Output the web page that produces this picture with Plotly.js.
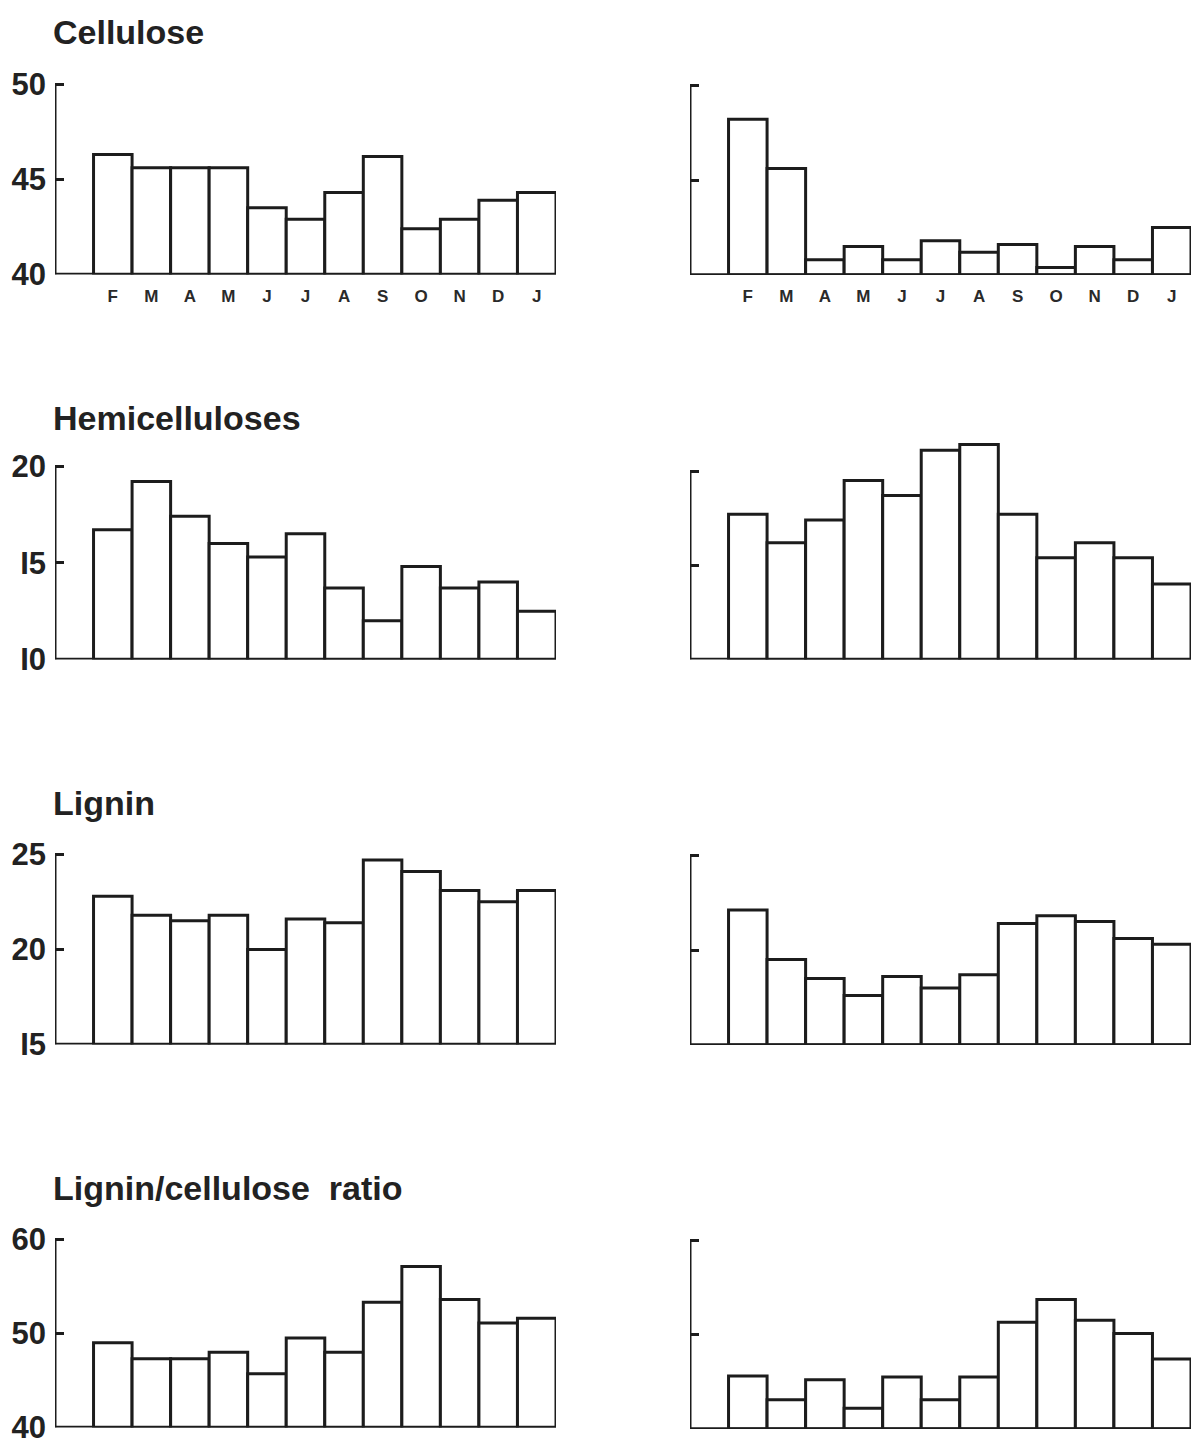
<!DOCTYPE html>
<html>
<head>
<meta charset="utf-8">
<script src="https://cdn.plot.ly/plotly-3.0.1.min.js"></script>
<style>
  html, body { margin: 0; padding: 0; background: #fff; }
  #chart { width: 1194px; height: 1439px; }
</style>
</head>
<body>
<div id="chart"></div>
<script>
// Month labels, February through the following January
const months = ['F', 'M', 'A', 'M', 'J', 'J', 'A', 'S', 'O', 'N', 'D', 'J'];

// Cellulose (%)
const celluloseLeft  = [46.3, 45.6, 45.6, 45.6, 43.5, 42.9, 44.3, 46.2, 42.4, 42.9, 43.9, 44.3];
const celluloseRight = [48.2, 45.6, 40.8, 41.5, 40.8, 41.8, 41.2, 41.6, 40.4, 41.5, 40.8, 42.5];

// Hemicelluloses (%)
const hemiLeft  = [16.7, 19.2, 17.4, 16.0, 15.3, 16.5, 13.7, 12.0, 14.8, 13.7, 14.0, 12.5];
const hemiRight = [17.7, 16.2, 17.4, 19.5, 18.7, 21.1, 21.4, 17.7, 15.4, 16.2, 15.4, 14.0];

// Lignin (%)
const ligninLeft  = [22.8, 21.8, 21.5, 21.8, 20.0, 21.6, 21.4, 24.7, 24.1, 23.1, 22.5, 23.1];
const ligninRight = [22.1, 19.5, 18.5, 17.6, 18.6, 18.0, 18.7, 21.4, 21.8, 21.5, 20.6, 20.3];

// Lignin/cellulose ratio (x100)
const ratioLeft  = [49.0, 47.3, 47.3, 48.0, 45.7, 49.5, 48.0, 53.3, 57.1, 53.6, 51.1, 51.6];
const ratioRight = [45.6, 43.1, 45.2, 42.2, 45.5, 43.1, 45.5, 51.3, 53.7, 51.5, 50.1, 47.4];

// Panel titles and y-axis ticks
const panelTitles = ['Cellulose', 'Hemicelluloses', 'Lignin', 'Lignin/cellulose\u00a0\u00a0ratio'];
const yTicks = [[40, 45, 50], [10, 15, 20], [15, 20, 25], [40, 50, 60]];
const yTickText = [['40', '45', '50'], ['I0', 'I5', '20'], ['I5', '20', '25'], ['40', '50', '60']];

const seriesRows = [
  [celluloseLeft, celluloseRight],
  [hemiLeft, hemiRight],
  [ligninLeft, ligninRight],
  [ratioLeft, ratioRight]
];

// Page geometry (pixels)
const W = 1194, H = 1439;
const colX = [[55, 556], [690, 1191]];
// [top tick, base] of each panel, left and right columns
const rowY = [
  [[84, 274.5], [85, 275]],
  [[466, 659.5], [471, 659.5]],
  [[854.3, 1044.5], [855, 1045]],
  [[1239.3, 1427.5], [1240, 1429]]
];
const headroomPx = 5;   // space kept above the top tick so it is drawn

const ink = '#1c1c1c';
const fontFamily = '"Liberation Sans", Arial, Helvetica, sans-serif';

const xIdx = months.map((_, i) => i);
const xLo = -1.5, xHi = 11.5;
const traces = [];
const layout = {
  width: W, height: H,
  margin: {l: 0, r: 0, t: 0, b: 0},
  paper_bgcolor: '#fff', plot_bgcolor: 'rgba(0,0,0,0)',
  showlegend: false,
  bargap: 0,
  annotations: [],
  shapes: []
};

let n = 0;
seriesRows.forEach((pair, r) => {
  pair.forEach((vals, c) => {
    n += 1;
    const xa = 'xaxis' + (n === 1 ? '' : n);
    const ya = 'yaxis' + (n === 1 ? '' : n);
    const xr = 'x' + (n === 1 ? '' : n);
    const yr = 'y' + (n === 1 ? '' : n);
    const ticks = yTicks[r];
    const floor = ticks[0], tickTop = ticks[2];

    // vertical scale from the tick positions, then extra room above the top tick
    const [topPx, basePx] = rowY[r][c];
    const pxPerUnit = (basePx - topPx) / (tickTop - floor);
    const rangeTop = Math.max(tickTop, Math.max(...vals)) + headroomPx / pxPerUnit;
    const domTopPx = basePx - (rangeTop - floor) * pxPerUnit;

    // bars rise from the axis floor up to each value
    traces.push({
      type: 'bar',
      x: xIdx,
      y: vals.map(v => v - floor),
      base: floor,
      width: 1,
      xaxis: xr, yaxis: yr,
      cliponaxis: false,
      marker: {color: '#fff', line: {color: ink, width: 3}},
      hoverinfo: 'skip'
    });

    layout[xa] = {
      domain: [colX[c][0] / W, colX[c][1] / W],
      anchor: yr,
      range: [xLo, xHi],
      showgrid: false, zeroline: false,
      showline: false,
      ticks: '',
      tickmode: 'array',
      tickvals: xIdx,
      ticktext: months,
      showticklabels: r === 0,
      ticklabelstandoff: 9,
      tickfont: {family: fontFamily, size: 17, color: '#2a2a2a', weight: 'bold'},
      fixedrange: true
    };

    layout[ya] = {
      domain: [1 - basePx / H, 1 - domTopPx / H],
      anchor: xr,
      range: [floor, rangeTop],
      showgrid: false, zeroline: false,
      showline: false,
      ticks: 'inside', ticklen: 9, tickwidth: 3, tickcolor: ink,
      tickmode: 'array',
      tickvals: ticks,
      ticktext: yTickText[r],
      showticklabels: c === 0,
      ticklabeloverflow: 'allow',
      ticklabelstandoff: 8,
      tickfont: {family: fontFamily, size: 31, color: '#222', weight: 'bold'},
      fixedrange: true
    };

    // y-axis spine from the floor up to the top tick, and the baseline
    layout.shapes.push({
      type: 'line', layer: 'above',
      xref: xr, yref: yr,
      x0: xLo, x1: xLo, y0: floor, y1: tickTop,
      line: {color: ink, width: 3}
    });
    layout.shapes.push({
      type: 'line', layer: 'above',
      xref: xr, yref: yr,
      x0: xLo, x1: xHi, y0: floor, y1: floor,
      line: {color: ink, width: 3.5}
    });
  });
});

// Row titles above the left column
const titleY = [32, 418, 803, 1188];
panelTitles.forEach((t, r) => {
  layout.annotations.push({
    text: t,
    xref: 'paper', yref: 'paper',
    x: 51 / W, y: 1 - titleY[r] / H,
    xanchor: 'left', yanchor: 'middle',
    showarrow: false,
    font: {family: fontFamily, size: 34, color: '#222', weight: 'bold'}
  });
});

Plotly.newPlot('chart', traces, layout, {staticPlot: true, displayModeBar: false});
</script>
</body>
</html>
